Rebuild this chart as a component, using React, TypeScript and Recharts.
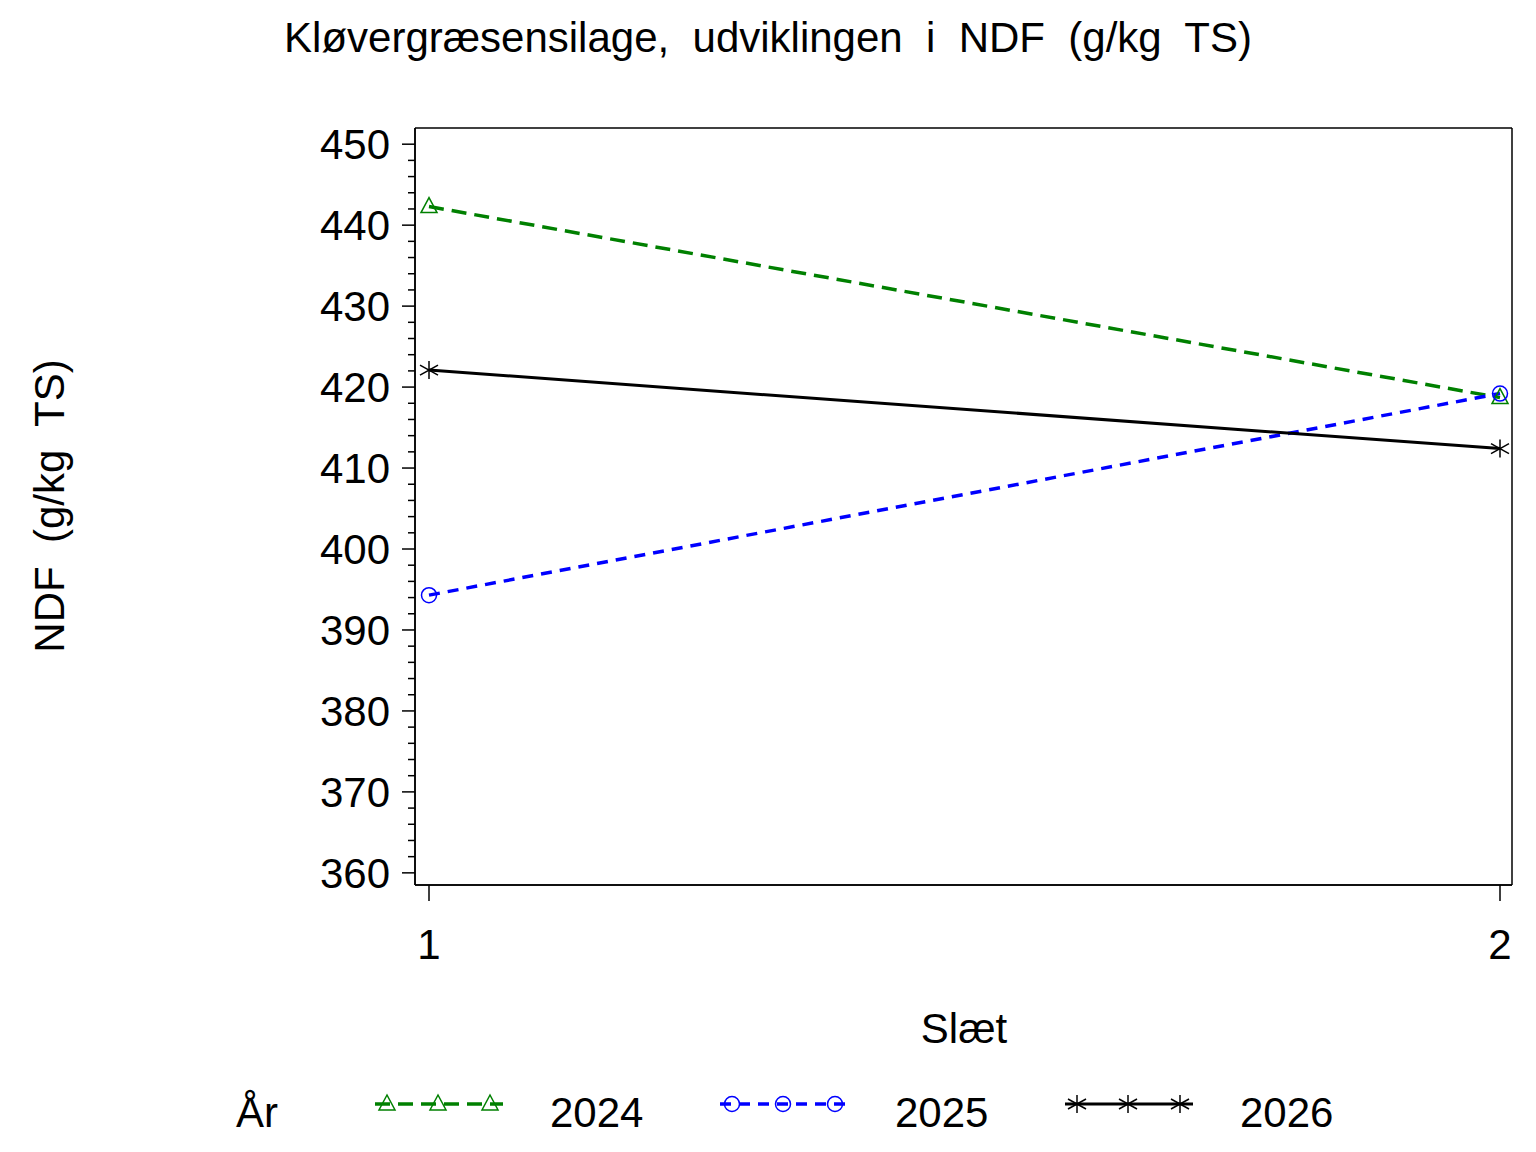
import { LineChart, Line, XAxis, YAxis, CartesianGrid } from "recharts";

// Data
const slaet = [1, 2];
const ndf2024 = [442.3, 418.7];
const ndf2025 = [394.3, 419.2];
const ndf2026 = [422.1, 412.4];
const years = ["2024", "2025", "2026"];
const yMajorTicks = [360, 370, 380, 390, 400, 410, 420, 430, 440, 450];
const xTicks = [1, 2];

const FONT = '"Liberation Sans", Arial, Helvetica, sans-serif';
const FS = 42;

type MarkerFn = (cx: number, cy: number, color: string, key?: string) => JSX.Element;

const triangle: MarkerFn = (cx, cy, color, key) => (
  <polygon
    key={key}
    points={`${cx},${cy - 9} ${cx - 8},${cy + 6} ${cx + 8},${cy + 6}`}
    fill="none"
    stroke={color}
    strokeWidth={1.5}
  />
);

const circle: MarkerFn = (cx, cy, color, key) => (
  <circle key={key} cx={cx} cy={cy} r={7.5} fill="none" stroke={color} strokeWidth={1.5} />
);

const star: MarkerFn = (cx, cy, color, key) => (
  <g key={key} stroke={color} strokeWidth={1.5}>
    <line x1={cx} y1={cy - 9} x2={cx} y2={cy + 9} />
    <line x1={cx - 9} y1={cy - 5} x2={cx + 9} y2={cy + 5} />
    <line x1={cx - 9} y1={cy + 5} x2={cx + 9} y2={cy - 5} />
  </g>
);

const series = [
  { key: "y2024", name: years[0], values: ndf2024, color: "#008000", dash: "15 8", width: 3.5, marker: triangle },
  { key: "y2025", name: years[1], values: ndf2025, color: "#0000ff", dash: "11 8", width: 3.5, marker: circle },
  { key: "y2026", name: years[2], values: ndf2026, color: "#000000", dash: undefined, width: 3, marker: star },
];

const chartData = slaet.map((s, i) => {
  const row: Record<string, number> = { slaet: s };
  series.forEach((sr) => {
    row[sr.key] = sr.values[i];
  });
  return row;
});

// major ticks get labels, minor ticks every 2 units
const yAllTicks = yMajorTicks.flatMap((v, i) =>
  i < yMajorTicks.length - 1 ? [v, v + 2, v + 4, v + 6, v + 8] : [v]
);

const YTick = (props: any) => {
  const { x, y, payload } = props;
  const major = payload.value % 10 === 0;
  return (
    <g>
      <line x1={x - (major ? 13 : 7)} x2={x} y1={y} y2={y} stroke="#000" strokeWidth={1.5} />
      {major && (
        <text x={x - 25} y={y} dy="0.36em" textAnchor="end" fontSize={FS} fontFamily={FONT} fill="#000">
          {payload.value}
        </text>
      )}
    </g>
  );
};

export default function App() {
  const legendX0 = 375;
  const legendStep = 345;

  return (
    <div style={{ position: "absolute", left: 0, top: 0, width: 1536, height: 1152, background: "#fff" }}>
      <LineChart
        width={1536}
        height={1152}
        data={chartData}
        margin={{ top: 128, right: 24, left: 355, bottom: 207 }}
      >
        {/* plot frame */}
        <CartesianGrid
          stroke="#000"
          strokeWidth={1.5}
          horizontalCoordinatesGenerator={({ offset }: any) => [offset.top, offset.top + offset.height]}
          verticalCoordinatesGenerator={({ offset }: any) => [offset.left, offset.left + offset.width]}
        />
        <XAxis
          dataKey="slaet"
          type="number"
          domain={[1, 2]}
          ticks={xTicks}
          padding={{ left: 14, right: 12 }}
          height={60}
          tickSize={16}
          tickMargin={28}
          axisLine={{ stroke: "#000", strokeWidth: 1.5 }}
          tickLine={{ stroke: "#000", strokeWidth: 1.5 }}
          tick={{ fill: "#000", fontSize: FS, fontFamily: FONT }}
        />
        <YAxis
          type="number"
          domain={[358.5, 452]}
          ticks={yAllTicks}
          interval={0}
          width={60}
          tickSize={0}
          tickMargin={0}
          tickLine={false}
          axisLine={{ stroke: "#000", strokeWidth: 1.5 }}
          tick={<YTick />}
        />
        {series.map((s) => (
          <Line
            key={s.key}
            dataKey={s.key}
            name={s.name}
            type="linear"
            stroke={s.color}
            strokeWidth={s.width}
            strokeDasharray={s.dash}
            isAnimationActive={false}
            dot={(p: any) => s.marker(p.cx, p.cy, s.color, `${s.key}-${p.index}`)}
            activeDot={false}
          />
        ))}
      </LineChart>

      <svg
        width={1536}
        height={1152}
        style={{ position: "absolute", left: 0, top: 0, pointerEvents: "none" }}
        fontFamily={FONT}
        fontSize={FS}
        fill="#000"
      >
        <text x={768} y={52} textAnchor="middle" style={{ whiteSpace: "pre" }}>
          Kløvergræsensilage,  udviklingen  i  NDF  (g/kg  TS)
        </text>
        <text x={964} y={1043} textAnchor="middle">
          Slæt
        </text>
        <text
          x={64}
          y={506}
          textAnchor="middle"
          transform="rotate(-90 64 506)"
          style={{ whiteSpace: "pre" }}
        >
          NDF  (g/kg  TS)
        </text>

        {/* legend */}
        <text x={236} y={1127}>
          År
        </text>
        {series.map((s, i) => {
          const x0 = legendX0 + i * legendStep;
          const ly = 1104;
          return (
            <g key={s.key}>
              <line
                x1={x0}
                x2={x0 + 128}
                y1={ly}
                y2={ly}
                stroke={s.color}
                strokeWidth={s.width}
                strokeDasharray={s.dash}
              />
              {[12, 63, 115].map((dx, j) => s.marker(x0 + dx, ly, s.color, `${s.key}-lg-${j}`))}
              <text x={x0 + 175} y={1127}>
                {s.name}
              </text>
            </g>
          );
        })}
      </svg>
    </div>
  );
}
